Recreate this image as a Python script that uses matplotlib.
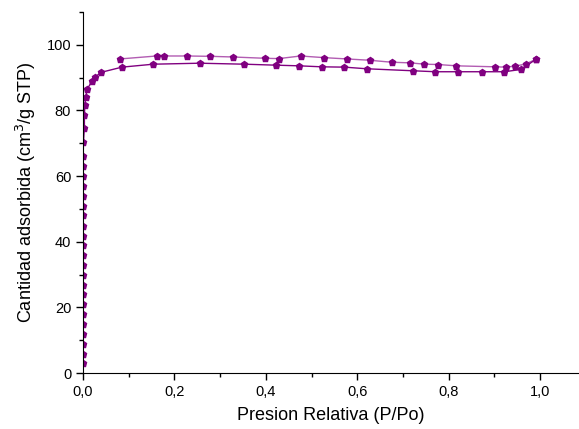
import matplotlib
matplotlib.use('Agg')
import matplotlib.pyplot as plt
from matplotlib.ticker import MultipleLocator, FuncFormatter

plt.rcParams['font.family'] = ['Liberation Sans', 'DejaVu Sans']

# adsorption branch (lower)
ads_x = [0.0003, 0.0003, 0.0003, 0.0003, 0.0003, 0.0003, 0.0003, 0.0003, 0.0003, 0.0003,
         0.0003, 0.0003, 0.0003, 0.0003, 0.0003, 0.0003, 0.0003, 0.0003, 0.0003, 0.0003,
         0.0003, 0.0003, 0.001, 0.003, 0.003, 0.004, 0.006, 0.0095, 0.020, 0.026, 0.039,
         0.085, 0.154, 0.255, 0.353, 0.422, 0.473, 0.522, 0.572, 0.621, 0.721, 0.771,
         0.821, 0.872, 0.922, 0.958, 0.991]
ads_y = [2.9, 5.9, 8.9, 11.9, 15.0, 17.9, 21.0, 24.0, 26.9, 30.0,
         32.9, 35.9, 38.9, 41.9, 44.9, 48.0, 51.0, 53.9, 57.0, 60.0,
         63.0, 66.0, 70.5, 74.8, 78.7, 81.6, 84.2, 86.6, 89.0, 90.1, 91.6,
         93.2, 94.1, 94.4, 94.1, 93.8, 93.6, 93.3, 93.2, 92.7, 92.1, 91.8,
         91.8, 91.8, 91.8, 92.5, 95.6]

# desorption branch (upper)
des_x = [0.991, 0.969, 0.946, 0.925, 0.902, 0.817, 0.777, 0.747, 0.716, 0.675,
         0.627, 0.577, 0.527, 0.476, 0.428, 0.398, 0.327, 0.278, 0.227, 0.177,
         0.161, 0.081]
des_y = [95.6, 94.2, 93.5, 93.2, 93.3, 93.6, 94.0, 94.1, 94.5, 94.7,
         95.3, 95.7, 96.1, 96.6, 95.8, 95.9, 96.3, 96.5, 96.6, 96.6,
         96.6, 95.7]

purple = '#800080'

fig = plt.figure(figsize=(5.79, 4.29), dpi=100)
ax = fig.add_axes([0.1434, 0.1305, 0.855, 0.8415])

ax.plot(des_x, des_y, color='#b25cb2', linewidth=1.0, marker='p', markersize=5,
        markerfacecolor=purple, markeredgecolor=purple)
ax.plot(ads_x, ads_y, color=purple, linewidth=1.0, marker='p', markersize=5,
        markerfacecolor=purple, markeredgecolor=purple)

ax.set_xlim(0, 1.083)
ax.set_ylim(0, 110)

ax.spines['right'].set_visible(False)
ax.spines['top'].set_visible(False)
ax.xaxis.set_major_locator(MultipleLocator(0.2))
ax.xaxis.set_minor_locator(MultipleLocator(0.1))
ax.yaxis.set_major_locator(MultipleLocator(20))
ax.yaxis.set_minor_locator(MultipleLocator(10))
ax.xaxis.set_major_formatter(FuncFormatter(lambda v, p: ('%.1f' % v).replace('.', ',')))
ax.tick_params(which='major', length=5, width=1, labelsize=10.5)
ax.tick_params(which='minor', length=3, width=1)

ax.set_xlabel('Presion Relativa (P/Po)', fontsize=13, labelpad=6)
ax.set_ylabel('Cantidad adsorbida (cm$^3$/g STP)', fontsize=13, labelpad=6)

plt.savefig('out.png', dpi=100)
